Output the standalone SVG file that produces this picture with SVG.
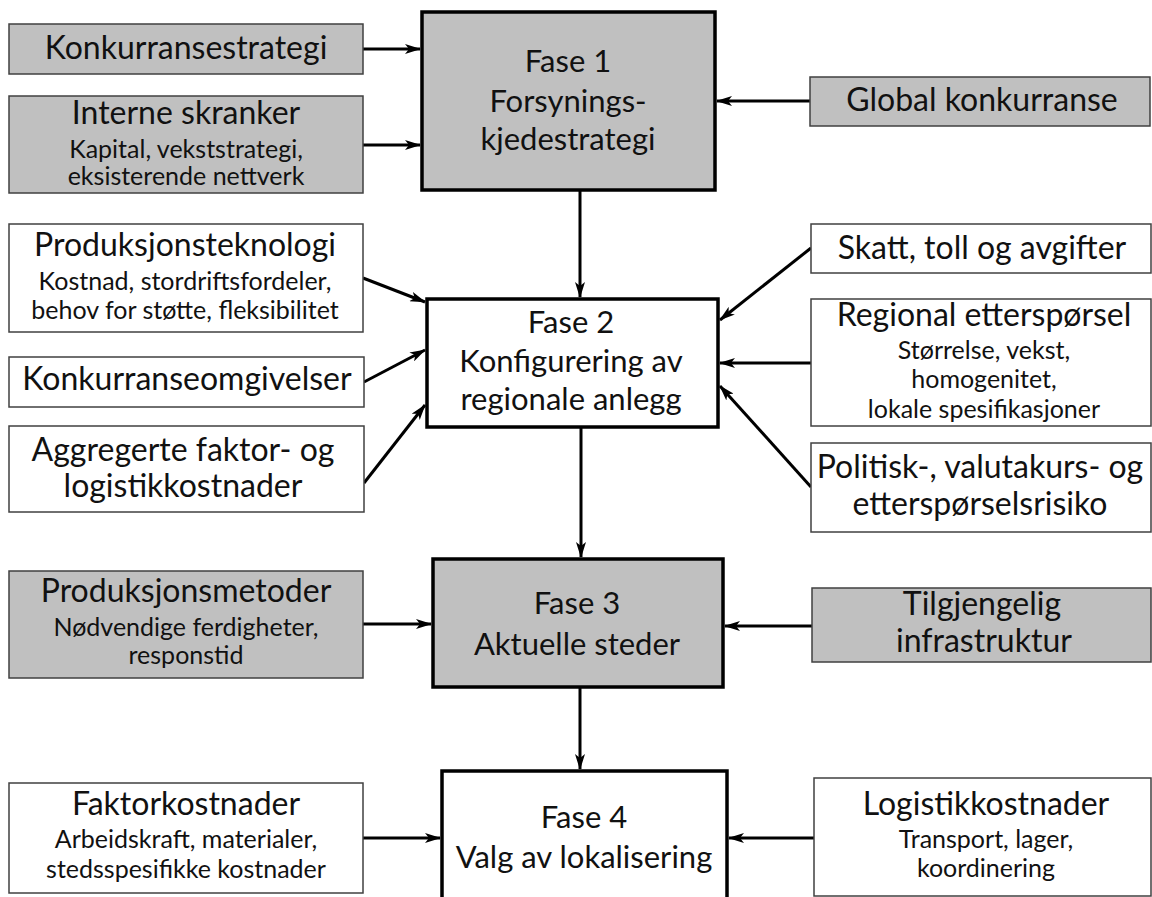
<svg xmlns="http://www.w3.org/2000/svg" width="1152" height="897" viewBox="0 0 1152 897">
<style>
text{font-family:Lato,"Open Sans","Liberation Sans",sans-serif;fill:#111;text-anchor:middle}
.t{font-size:32px}
.p{font-size:31px}
.s{font-size:25px}
.g{fill:#c0c0c0;stroke:#404040;stroke-width:1.5}
.w{fill:#fff;stroke:#404040;stroke-width:1.5}
.pg{fill:#c0c0c0;stroke:#000;stroke-width:3.5}
.pw{fill:#fff;stroke:#000;stroke-width:3.5}
.c{stroke:#000;stroke-width:3;fill:none;marker-end:url(#ah)}
</style>
<defs>
<marker id="ah" markerUnits="userSpaceOnUse" markerWidth="16" markerHeight="10" refX="15" refY="5" orient="auto">
<path d="M0,0 L16,5 L0,10 L4,5 Z" fill="#000"/>
</marker>
</defs>
<rect width="1152" height="897" fill="#fff"/>
<g id="connectors">
<line class="c" x1="363" y1="49" x2="420" y2="49"/>
<line class="c" x1="363" y1="145" x2="420" y2="145"/>
<line class="c" x1="810" y1="101" x2="717" y2="101"/>
<line class="c" x1="580" y1="191" x2="580" y2="297"/>
<line class="c" x1="363" y1="278" x2="425" y2="302"/>
<line class="c" x1="364" y1="382" x2="425" y2="350"/>
<line class="c" x1="364" y1="483" x2="425" y2="405"/>
<line class="c" x1="811" y1="248" x2="720" y2="320"/>
<line class="c" x1="811" y1="363" x2="720" y2="363"/>
<line class="c" x1="811" y1="487" x2="720" y2="386"/>
<line class="c" x1="581" y1="428" x2="581" y2="557"/>
<line class="c" x1="363" y1="624" x2="431" y2="624"/>
<line class="c" x1="812" y1="626" x2="725" y2="626"/>
<line class="c" x1="580" y1="688" x2="580" y2="769"/>
<line class="c" x1="363" y1="838" x2="440" y2="838"/>
<line class="c" x1="814" y1="838" x2="729" y2="838"/>
</g>
<g id="fase1"><rect class="pg" x="422" y="12" width="293" height="178"/>
<text class="p" x="568" y="72">Fase 1</text><text class="p" x="568" y="112">Forsynings-</text><text class="p" x="568" y="150">kjedestrategi</text></g>
<g id="fase2"><rect class="pw" x="427" y="299" width="291" height="128"/>
<text class="p" x="571" y="333">Fase 2</text><text class="p" x="571" y="372">Konfigurering av</text><text class="p" x="571" y="410">regionale anlegg</text></g>
<g id="fase3"><rect class="pg" x="433" y="559" width="290" height="128"/>
<text class="p" x="577" y="614">Fase 3</text><text class="p" x="577" y="655">Aktuelle steder</text></g>
<g id="fase4"><rect class="pw" x="442" y="771" width="285" height="140"/>
<text class="p" x="584" y="828">Fase 4</text><text class="p" x="584" y="868">Valg av lokalisering</text></g>
<g id="konkurransestrategi"><rect class="g" x="9" y="24" width="354" height="50"/>
<text class="t" x="186" y="59">Konkurransestrategi</text></g>
<g id="interne"><rect class="g" x="9" y="96" width="354" height="97"/>
<text class="t" x="186" y="124">Interne skranker</text><text class="s" x="186" y="158">Kapital, vekststrategi,</text><text class="s" x="186" y="185">eksisterende nettverk</text></g>
<g id="global"><rect class="g" x="810" y="77" width="340" height="49"/>
<text class="t" x="982" y="111">Global konkurranse</text></g>
<g id="produksjonsteknologi"><rect class="w" x="9" y="224" width="354" height="108"/>
<text class="t" x="185" y="256">Produksjonsteknologi</text><text class="s" x="185" y="290">Kostnad, stordriftsfordeler,</text><text class="s" x="185" y="319">behov for støtte, fleksibilitet</text></g>
<g id="konkurranseomgivelser"><rect class="w" x="9" y="357" width="355" height="50"/>
<text class="t" x="187" y="390">Konkurranseomgivelser</text></g>
<g id="aggregerte"><rect class="w" x="9" y="426" width="355" height="86"/>
<text class="t" x="183" y="461">Aggregerte faktor- og</text><text class="t" x="183" y="497">logistikkostnader</text></g>
<g id="skatt"><rect class="w" x="811" y="224" width="340" height="49"/>
<text class="t" x="982" y="259">Skatt, toll og avgifter</text></g>
<g id="regional"><rect class="w" x="811" y="299" width="340" height="127"/>
<text class="t" x="984" y="326">Regional etterspørsel</text><text class="s" x="984" y="359">Størrelse, vekst,</text><text class="s" x="984" y="388">homogenitet,</text><text class="s" x="984" y="418">lokale spesifikasjoner</text></g>
<g id="politisk"><rect class="w" x="811" y="443" width="340" height="89"/>
<text class="t" x="980" y="478">Politisk-, valutakurs- og</text><text class="t" x="980" y="515">etterspørselsrisiko</text></g>
<g id="produksjonsmetoder"><rect class="g" x="9" y="571" width="354" height="107"/>
<text class="t" x="186" y="602">Produksjonsmetoder</text><text class="s" x="186" y="636">Nødvendige ferdigheter,</text><text class="s" x="186" y="664">responstid</text></g>
<g id="tilgjengelig"><rect class="g" x="812" y="588" width="339" height="74"/>
<text class="t" x="982" y="615">Tilgjengelig</text><text class="t" x="984" y="652">infrastruktur</text></g>
<g id="faktorkostnader"><rect class="w" x="9" y="783" width="354" height="110"/>
<text class="t" x="186" y="815">Faktorkostnader</text><text class="s" x="186" y="848">Arbeidskraft, materialer,</text><text class="s" x="186" y="878">stedsspesifikke kostnader</text></g>
<g id="logistikkostnader"><rect class="w" x="814" y="778" width="337" height="118"/>
<text class="t" x="986" y="815">Logistikkostnader</text><text class="s" x="986" y="848">Transport, lager,</text><text class="s" x="986" y="877">koordinering</text></g>
</svg>
